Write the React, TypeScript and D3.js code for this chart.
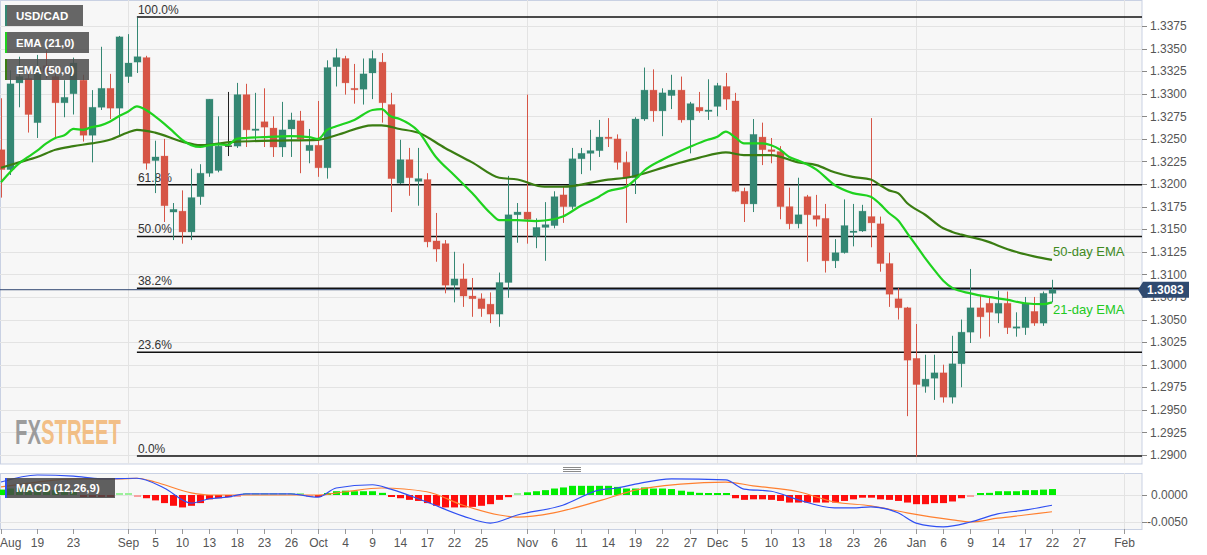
import React from "react";
import * as d3 from "d3";

// ---------- DATA ----------
const opens = [1.3238,1.3216,1.3312,1.3317,1.3268,1.3331,1.3319,1.3290,1.3300,1.3315,1.3254,1.3285,1.3306,1.3284,1.3319,1.3335,1.3340,1.3226,1.3231,1.3169,1.3170,1.3147,1.3186,1.3212,1.3215,1.3242,1.3242,1.3299,1.3260,1.3269,1.3262,1.3241,1.3261,1.3270,1.3237,1.3243,1.3218,1.3330,1.3339,1.3306,1.3305,1.3323,1.3335,1.3288,1.3201,1.3227,1.3203,1.3205,1.3137,1.3134,1.3088,1.3095,1.3076,1.3073,1.3067,1.3056,1.3091,1.3166,1.3169,1.3142,1.3152,1.3154,1.3188,1.3175,1.3228,1.3234,1.3237,1.3252,1.3250,1.3224,1.3207,1.3272,1.3304,1.3281,1.3298,1.3304,1.3271,1.3285,1.3281,1.3286,1.3308,1.3292,1.3192,1.3178,1.3252,1.3238,1.3236,1.3175,1.3156,1.3186,1.3165,1.3162,1.3115,1.3124,1.3147,1.3148,1.3164,1.3156,1.3112,1.3073,1.3063,1.3007,1.2976,1.2985,1.2991,1.2964,1.3001,1.3036,1.3063,1.3068,1.3057,1.3068,1.3041,1.3041,1.3059,1.3046,1.3079];
const highs = [1.3295,1.3326,1.3341,1.3326,1.3343,1.3348,1.3330,1.3315,1.3340,1.3321,1.3304,1.3352,1.3322,1.3364,1.3366,1.3384,1.3342,1.3248,1.3250,1.3179,1.3193,1.3217,1.3222,1.3294,1.3275,1.3302,1.3312,1.3311,1.3301,1.3306,1.3275,1.3291,1.3279,1.3281,1.3261,1.3292,1.3337,1.3350,1.3342,1.3333,1.3339,1.3348,1.3345,1.3301,1.3249,1.3240,1.3240,1.3212,1.3168,1.3138,1.3125,1.3112,1.3096,1.3079,1.3080,1.3102,1.3209,1.3179,1.3299,1.3162,1.3180,1.3192,1.3197,1.3240,1.3240,1.3260,1.3271,1.3273,1.3255,1.3236,1.3274,1.3329,1.3327,1.3306,1.3321,1.3319,1.3291,1.3302,1.3316,1.3312,1.3323,1.3301,1.3196,1.3272,1.3268,1.3251,1.3242,1.3196,1.3207,1.3188,1.3188,1.3178,1.3139,1.3183,1.3178,1.3177,1.3273,1.3164,1.3124,1.3085,1.3064,1.3045,1.3011,1.3011,1.3000,1.3032,1.3050,1.3106,1.3077,1.3076,1.3082,1.3081,1.3058,1.3075,1.3075,1.3081,1.3094];
const lows = [1.3185,1.3210,1.3285,1.3257,1.3251,1.3317,1.3252,1.3274,1.3277,1.3247,1.3224,1.3282,1.3272,1.3254,1.3312,1.3323,1.3216,1.3190,1.3158,1.3138,1.3134,1.3138,1.3177,1.3208,1.3213,1.3231,1.3240,1.3241,1.3247,1.3241,1.3230,1.3230,1.3230,1.3212,1.3223,1.3208,1.3206,1.3308,1.3299,1.3289,1.3288,1.3294,1.3268,1.3169,1.3200,1.3187,1.3176,1.3130,1.3114,1.3079,1.3069,1.3064,1.3053,1.3053,1.3046,1.3042,1.3074,1.3135,1.3134,1.3129,1.3115,1.3151,1.3157,1.3172,1.3211,1.3215,1.3230,1.3241,1.3216,1.3157,1.3189,1.3270,1.3269,1.3253,1.3283,1.3268,1.3234,1.3279,1.3271,1.3275,1.3282,1.3191,1.3158,1.3169,1.3221,1.3223,1.3161,1.3150,1.3151,1.3114,1.3153,1.3102,1.3107,1.3123,1.3131,1.3147,1.3130,1.3103,1.3064,1.3050,1.2943,1.2898,1.2969,1.2961,1.2958,1.2957,1.2975,1.3024,1.3029,1.3031,1.3046,1.3034,1.3031,1.3033,1.3043,1.3043,1.3069];
const closes = [1.3216,1.3311,1.3319,1.3277,1.3329,1.3324,1.3290,1.3296,1.3334,1.3254,1.3285,1.3306,1.3284,1.3363,1.3334,1.3341,1.3223,1.3230,1.3176,1.3172,1.3147,1.3185,1.3212,1.3294,1.3242,1.3242,1.3299,1.3260,1.3261,1.3263,1.3241,1.3260,1.3271,1.3250,1.3243,1.3218,1.3329,1.3340,1.3312,1.3305,1.3322,1.3339,1.3290,1.3206,1.3227,1.3207,1.3206,1.3136,1.3128,1.3088,1.3095,1.3076,1.3073,1.3062,1.3056,1.3091,1.3166,1.3169,1.3161,1.3152,1.3155,1.3186,1.3175,1.3228,1.3234,1.3237,1.3252,1.3251,1.3224,1.3207,1.3272,1.3304,1.3281,1.3301,1.3304,1.3271,1.3289,1.3281,1.3282,1.3309,1.3294,1.3192,1.3178,1.3255,1.3238,1.3236,1.3175,1.3156,1.3166,1.3166,1.3161,1.3115,1.3124,1.3154,1.3148,1.3170,1.3157,1.3112,1.3078,1.3063,1.3005,1.2978,1.2984,1.2991,1.2964,1.3001,1.3036,1.3063,1.3053,1.3058,1.3068,1.3041,1.3042,1.3068,1.3046,1.3079,1.3083];

const ema21Idx = [0,2,3,4,5,6,7,8,9,10,11,12,13,14,15,16,17,18,19,20,21,22,23,24,25,26,27,29,32,34,35,36,37,39,41,42,43,44,46,48,50,52,54,55,57,59,61,62,64,66,67,69,70,71,73,74,76,78,79,80,81,82,84,85,86,87,88,90,92,94,96,97,98,99,100,101,102,103,104,105,107,109,111,113,115,116];
const ema21Val = [1.3202,1.3223,1.3230,1.3237,1.3245,1.3251,1.3254,1.3261,1.3260,1.3263,1.3265,1.3269,1.3275,1.3280,1.3286,1.3282,1.3275,1.3267,1.3258,1.3249,1.3243,1.3241,1.3243,1.3244,1.3243,1.3250,1.3251,1.3252,1.3253,1.3252,1.3250,1.3260,1.3264,1.3271,1.3282,1.3283,1.3275,1.3272,1.3259,1.3230,1.3210,1.3190,1.3168,1.3160,1.3160,1.3159,1.3161,1.3164,1.3176,1.3186,1.3192,1.3197,1.3205,1.3215,1.3227,1.3232,1.3241,1.3249,1.3252,1.3258,1.3252,1.3245,1.3245,1.3243,1.3238,1.3230,1.3226,1.3216,1.3199,1.3190,1.3186,1.3178,1.3168,1.3160,1.3146,1.3132,1.3118,1.3105,1.3093,1.3085,1.3079,1.3075,1.3072,1.3068,1.3067,1.3069];

const ema50Idx = [0,2,4,6,8,10,12,14,15,17,20,22,26,30,35,37,41,42,44,46,49,52,55,57,60,62,67,69,74,77,80,82,85,88,90,92,94,96,97,98,99,100,102,104,105,106,109,110,112,114,116];
const ema50Val = [1.3218,1.3224,1.3230,1.3238,1.3242,1.3245,1.3249,1.3257,1.3260,1.3257,1.3247,1.3243,1.3247,1.3248,1.3249,1.3254,1.3265,1.3265,1.3261,1.3257,1.3240,1.3224,1.3207,1.3205,1.3197,1.3197,1.3205,1.3207,1.3221,1.3229,1.3235,1.3232,1.3232,1.3224,1.3221,1.3213,1.3208,1.3205,1.3199,1.3193,1.3190,1.3179,1.3166,1.3151,1.3147,1.3144,1.3136,1.3132,1.3125,1.3120,1.3116];

const macdIdx = [0,4,8,11,15,18,21,23,25,27,32,35,37,41,43,47,51,54,57,62,66,68,70,74,80,82,85,88,92,94,96,99,101,104,107,110,113,116];
const macdVal = [0.0024,0.0037,0.0035,0.0030,0.0031,0.0013,-0.0015,-0.0007,-0.0004,0.0002,0.0002,-0.0004,0.0013,0.0019,0.0011,-0.0013,-0.0039,-0.0052,-0.0037,-0.0019,0.0009,0.0013,0.0020,0.0030,0.0028,0.0011,0.0007,-0.0009,-0.0024,-0.0024,-0.0022,-0.0033,-0.0052,-0.0059,-0.0050,-0.0035,-0.0028,-0.0019];

const signalIdx = [0,4,8,13,15,17,21,23,30,35,38,42,47,51,55,57,61,66,70,75,80,83,88,92,96,100,105,107,110,113,116];
const signalVal = [0.0015,0.0024,0.0030,0.0030,0.0031,0.0024,0.0004,0.0000,0.0000,0.0000,0.0006,0.0013,0.0006,-0.0019,-0.0037,-0.0041,-0.0033,-0.0011,0.0009,0.0020,0.0024,0.0017,0.0006,-0.0013,-0.0020,-0.0033,-0.0046,-0.0050,-0.0043,-0.0037,-0.0031];

const histVal = [
  0.0010,0.0012,0.0013,0.0012,0.0012,0.0010,0.0009,0.0008,0.0006,-0.0002,-0.0003,-0.0003,-0.0003,0.0001,0.0000,-0.0001,
  -0.0006,-0.0010,-0.0015,-0.0020,-0.0023,-0.0020,-0.0015,-0.0008,-0.0006,-0.0004,
  -0.0001,0.0001,0.0001,0.0001,0.0001,0.0001,0.0001,0.0000,-0.0001,
  -0.0003,
  0.0003,0.0007,0.0008,0.0007,0.0007,0.0007,0.0004,
  -0.0003,-0.0006,-0.0009,-0.0011,-0.0015,-0.0020,-0.0023,-0.0023,-0.0023,-0.0022,-0.0020,-0.0017,-0.0009,-0.0004,
  0.0001,0.0005,0.0007,0.0009,0.0012,0.0014,0.0017,0.0017,0.0017,0.0017,0.0017,0.0015,0.0012,0.0012,0.0014,0.0012,0.0012,0.0011,0.0008,0.0006,0.0004,0.0003,0.0003,0.0002,
  -0.0006,-0.0009,-0.0008,-0.0008,-0.0009,-0.0011,-0.0014,-0.0014,-0.0014,-0.0014,-0.0014,-0.0014,-0.0011,-0.0008,-0.0005,-0.0005,-0.0008,-0.0009,-0.0011,-0.0014,-0.0017,-0.0017,-0.0015,-0.0015,-0.0012,-0.0006,-0.0001,
  0.0002,0.0004,0.0007,0.0007,0.0007,0.0009,0.0009,0.0010,0.0011
];

const tickLabels = ["Aug","19","23","Sep","5","10","13","18","23","26","Oct","4","9","14","17","22","25","Nov","6","11","14","19","22","27","Dec","5","10","13","18","23","26","Jan","6","9","14","17","22","27","Feb"];
const tickIdx = [0,4,8,14,17,20,23,26,29,32,35,38,41,44,47,50,53,58,61,64,67,70,73,76,79,82,85,88,91,94,97,101,104,107,110,113,116,119,124];
const monthIdx = [14,35,58,79,101,124];

const priceTicks = [1.2900,1.2925,1.2950,1.2975,1.3000,1.3025,1.3050,1.3075,1.3100,1.3125,1.3150,1.3175,1.3200,1.3225,1.3250,1.3275,1.3300,1.3325,1.3350,1.3375];
const macdTicks = [0, -0.005];

const fibHigh = 1.3385;
const fibLow = 1.2899;
const fibRatios = [1, 0.618, 0.5, 0.382, 0.236, 0];
const fibLabels = ["100.0%", "61.8%", "50.0%", "38.2%", "23.6%", "0.0%"];
const lastPrice = 1.3083;

const GREEN = "#348773";
const RED = "#d65546";
const EMA21C = "#1fd21f";
const EMA50C = "#3a7d12";
const FONT = "'Liberation Sans', Arial, sans-serif";

export default function App() {
  const W = 1207, H = 555;
  const plotR = 1142, plotB = 464;
  const macdT = 473, macdB = 529;

  const x = d3.scaleLinear().domain([0, 116]).range([1, 1052]);
  const y = d3.scaleLinear().domain([1.29, 1.3375]).range([455, 26]);
  const ym = d3.scaleLinear().domain([-0.005, 0]).range([522, 495]);

  const lineP = d3.line<[number, number]>().x(d => x(d[0])).y(d => y(d[1])).curve(d3.curveMonotoneX);
  const lineM = d3.line<[number, number]>().x(d => x(d[0])).y(d => ym(d[1])).curve(d3.curveMonotoneX);

  const ema21 = lineP(ema21Idx.map((v, i) => [v, ema21Val[i]] as [number, number])) || "";
  const ema50 = lineP(ema50Idx.map((v, i) => [v, ema50Val[i]] as [number, number])) || "";
  const macdPath = lineM(macdIdx.map((v, i) => [v, macdVal[i]] as [number, number])) || "";
  const sigPath = lineM(signalIdx.map((v, i) => [v, signalVal[i]] as [number, number])) || "";

  const py = y(lastPrice);

  return (
    <div style={{ position: "absolute", left: 0, top: 0 }}>
      <svg width={W} height={H} style={{ display: "block", fontFamily: FONT }}>
        <defs>
          <clipPath id="mainClip"><rect x={0} y={0} width={plotR} height={plotB} /></clipPath>
          <clipPath id="macdClip"><rect x={0} y={macdT} width={plotR} height={macdB - macdT} /></clipPath>
        </defs>
        <rect x={0} y={0} width={W} height={H} fill="#ffffff" />
        {/* main panel */}
        <rect x={0.5} y={0.5} width={plotR - 0.5} height={plotB - 0.5} fill="#f7f7f7" stroke="#c9d1e3" />
        <g clipPath="url(#mainClip)">
          {priceTicks.map(t => (
            <line key={t} x1={0} x2={plotR} y1={Math.round(y(t)) + 0.5} y2={Math.round(y(t)) + 0.5} stroke="#e3e3e3" />
          ))}
          {monthIdx.map(m => (
            <line key={m} x1={Math.round(x(m)) + 0.5} x2={Math.round(x(m)) + 0.5} y1={0} y2={plotB} stroke="#e3e3e3" />
          ))}
          {/* watermark */}
          <g transform="translate(15,444) scale(0.58,1)">
            <text x={0} y={0} fontSize={35} fontWeight="bold">
              <tspan fill="#8c8c8c" fillOpacity={0.85}>FX</tspan>
              <tspan fill="#f2b877" fillOpacity={0.9}>STREET</tspan>
            </text>
          </g>
          {/* current price line */}
          <line x1={0} x2={plotR} y1={py} y2={py} stroke="#2d4570" strokeWidth={1} />
          {/* fib lines */}
          {fibRatios.map((r, i) => {
            const v = fibLow + (fibHigh - fibLow) * r;
            const yy = y(v);
            return (
              <g key={r}>
                <line x1={x(15)} x2={plotR} y1={yy} y2={yy} stroke="#111" strokeWidth={1.5} />
                <text x={x(15) + 1} y={yy - 3} fontSize={12} fill="#333">{fibLabels[i]}</text>
              </g>
            );
          })}
          {/* candles */}
          {opens.map((o, i) => {
            const c = closes[i];
            const col = c === o ? "#222" : c > o ? GREEN : RED;
            const cx = Math.round(x(i)) + 0.5;
            const top = y(Math.max(o, c));
            const bot = y(Math.min(o, c));
            return (
              <g key={i}>
                <line x1={cx} x2={cx} y1={y(highs[i])} y2={y(lows[i])} stroke={col} strokeWidth={1} />
                {c === o ? (
                  <line x1={cx - 3.5} x2={cx + 3.5} y1={top} y2={top} stroke={col} strokeWidth={1.2} />
                ) : (
                  <rect x={cx - 3.5} y={top} width={7} height={Math.max(1.5, bot - top)} fill={col} stroke={col} strokeOpacity={0.35} strokeWidth={0.8} />
                )}
              </g>
            );
          })}
          {/* EMAs */}
          <path d={ema50} fill="none" stroke={EMA50C} strokeWidth={2.2} />
          <path d={ema21} fill="none" stroke={EMA21C} strokeWidth={2.2} />
          {/* annotations */}
          <text x={1053} y={256} fontSize={13} fill="#3f8a1e">50-day EMA</text>
          <text x={1053} y={314} fontSize={13} fill="#22c922">21-day EMA</text>
        </g>
        {/* right axis */}
        {priceTicks.map(t => (
          <g key={t}>
            <line x1={plotR} x2={plotR + 5} y1={Math.round(y(t)) + 0.5} y2={Math.round(y(t)) + 0.5} stroke="#888" />
            <text x={plotR + 8} y={y(t)} dy="0.35em" fontSize={12} fill="#555">{t.toFixed(4)}</text>
          </g>
        ))}
        {/* current price label */}
        <path d={`M${plotR - 4},${py} L${plotR + 1},${py - 8} L${plotR + 47},${py - 8} L${plotR + 47},${py + 8} L${plotR + 1},${py + 8} Z`} fill="#2f4a70" />
        <text x={plotR + 5} y={py} dy="0.36em" fontSize={12} fontWeight="bold" fill="#fff">{lastPrice.toFixed(4)}</text>
        {/* legend boxes */}
        {[
          { label: "USD/CAD", y0: 5, w: 78, c: GREEN },
          { label: "EMA (21,0)", y0: 32, w: 84, c: EMA21C },
          { label: "EMA (50,0)", y0: 59, w: 84, c: EMA50C },
        ].map(l => (
          <g key={l.label}>
            <rect x={5} y={l.y0} width={l.w} height={21} fill="rgba(78,78,78,0.86)" />
            <rect x={5} y={l.y0} width={2} height={21} fill={l.c} />
            <text x={16} y={l.y0 + 14.5} fontSize={11.5} fontWeight="bold" fill="#fff">{l.label}</text>
          </g>
        ))}
        {/* drag handle */}
        {[467, 469, 471].map(yy => (
          <line key={yy} x1={563} x2={581} y1={yy + 0.5} y2={yy + 0.5} stroke="#8a8a8a" />
        ))}
        {/* MACD panel */}
        <rect x={0.5} y={macdT + 0.5} width={plotR - 0.5} height={macdB - macdT} fill="#f7f7f7" stroke="#c9d1e3" />
        <g clipPath="url(#macdClip)">
          {macdTicks.map(t => (
            <line key={t} x1={0} x2={plotR} y1={Math.round(ym(t)) + 0.5} y2={Math.round(ym(t)) + 0.5} stroke="#e3e3e3" />
          ))}
          {monthIdx.map(m => (
            <line key={m} x1={Math.round(x(m)) + 0.5} x2={Math.round(x(m)) + 0.5} y1={macdT} y2={macdB} stroke="#e3e3e3" />
          ))}
          {histVal.map((v, i) => {
            const cx = Math.round(x(i)) + 0.5;
            const y0 = ym(0);
            const y1 = ym(v);
            const small = Math.abs(v) < 0.00015;
            const col = v >= 0 ? (small ? "#9af09a" : "#00ee00") : (small ? "#f7a0a0" : "#ff0d0d");
            const h = Math.max(2, Math.abs(y1 - y0));
            return <rect key={i} x={cx - 3.5} y={v >= 0 ? y0 - h : y0} width={7} height={h} fill={col} />;
          })}
          <path d={sigPath} fill="none" stroke="#ff8030" strokeWidth={1.2} />
          <path d={macdPath} fill="none" stroke="#2f4ff2" strokeWidth={1.2} />
        </g>
        <rect x={5} y={478} width={110} height={20} fill="rgba(70,70,70,0.86)" />
        <rect x={5} y={478} width={2} height={20} fill="#2f4ff2" />
        <text x={16} y={492} fontSize={11.5} fontWeight="bold" fill="#fff">MACD (12,26,9)</text>
        {macdTicks.map(t => (
          <g key={t}>
            <line x1={plotR} x2={plotR + 5} y1={Math.round(ym(t)) + 0.5} y2={Math.round(ym(t)) + 0.5} stroke="#888" />
            <text x={t < 0 ? plotR + 5 : plotR + 9} y={ym(t)} dy="0.35em" fontSize={12} fill="#555">{t.toFixed(4)}</text>
          </g>
        ))}
        {/* x axis */}
        {tickIdx.map((ti, k) => {
          const xx = Math.round(x(ti)) + 0.5;
          return (
            <g key={k}>
              <line x1={xx} x2={xx} y1={macdB} y2={macdB + 5} stroke="#999" />
              <text x={k === 0 ? 0 : xx} y={547} fontSize={12} fill="#555" textAnchor={k === 0 ? "start" : "middle"}>{tickLabels[k]}</text>
            </g>
          );
        })}
      </svg>
    </div>
  );
}
